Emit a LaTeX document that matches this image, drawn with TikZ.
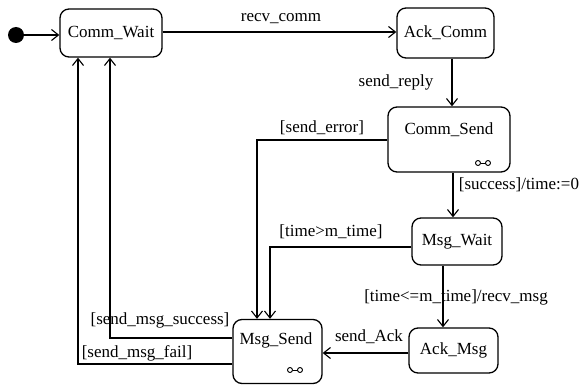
\documentclass[tikz,border=0pt]{standalone}
\usepackage{fontspec}
\setmainfont{Liberation Serif}
\usetikzlibrary{arrows.meta}
\begin{document}
\begin{tikzpicture}[x=1pt,y=-1pt,
  stbox/.style={draw, rounded corners=9pt, line width=1.3pt, inner sep=0pt},
  trans/.style={draw, line width=1.2pt, -{Straight Barb[length=7pt,width=11pt,line width=1.1pt]}},
  lbl/.style={inner sep=0pt, font=\fontsize{17}{20}\selectfont},
  font=\fontsize{17}{20}\selectfont]
\useasboundingbox (0,0) rectangle (582,385);
\node[circle, fill, minimum size=16pt, inner sep=0pt] (init) at (16,35){};
\node[stbox, minimum width=102pt, minimum height=48pt] (cwait) at (111,33){Comm\_Wait};
\node[stbox, minimum width=97pt, minimum height=50pt] (ackc) at (445.5,33){Ack\_Comm};
\node[stbox, minimum width=122pt, minimum height=65pt] (csend) at (449,139.5){};
\node[lbl] (csendtxt) at (449,130){Comm\_Send};
\node[stbox, minimum width=90pt, minimum height=47pt] (mwait) at (457,241.5){Msg\_Wait};
\node[stbox, minimum width=89pt, minimum height=45pt] (ackm) at (453.5,350.5){Ack\_Msg};
\node[stbox, minimum width=89pt, minimum height=64pt] (msend) at (277.5,351.5){};
\node[lbl] (msendtxt) at (276,340){Msg\_Send};
\foreach \cx/\cy in {483/163, 295/370}{
  \draw[line width=0.9pt] (\cx-5,\cy) circle (2.5pt) (\cx+5,\cy) circle (2.5pt);
  \draw[line width=0.9pt] (\cx-2.5,\cy) -- (\cx+2.5,\cy);
}
\draw[trans] (init) -- (cwait.west |- init);
\draw[trans] (cwait.east |- 0,32) -- (ackc.west |- 0,32);
\draw[trans] (ackc.south -| 452,0) -- (csend.north -| 452,0);
\draw[trans] (csend.west |- 0,140) -| (msend.north -| 257,0);
\draw[trans] (csend.south -| 453,0) -- (mwait.north -| 453,0);
\draw[trans] (mwait.west |- 0,247) -| (msend.north -| 270,0);
\draw[trans] (mwait.south -| 443,0) -- (ackm.north -| 443,0);
\draw[trans] (ackm.west |- 0,353) -- (msend.east |- 0,353);
\draw[trans] (msend.west |- 0,338) -| (cwait.south -| 110,0);
\draw[trans] (msend.west |- 0,364) -| (cwait.south -| 78,0);
\node[lbl] (l1) at (281,19){recv\_comm};
\node[lbl] (l2) at (396,82){send\_reply};
\node[lbl] (l3) at (322,128){[send\_error]};
\node[lbl] (l4) at (519,185){[success]/time:=0};
\node[lbl] (l5) at (331,232){[time>m\_time]};
\node[lbl] (l6) at (456,297){[time<=m\_time]/recv\_msg};
\node[lbl] (l7) at (369,337){send\_Ack};
\node[lbl] (l8) at (160,320){[send\_msg\_success]};
\node[lbl] (l9) at (137,353){[send\_msg\_fail]};
\end{tikzpicture}
\end{document}
